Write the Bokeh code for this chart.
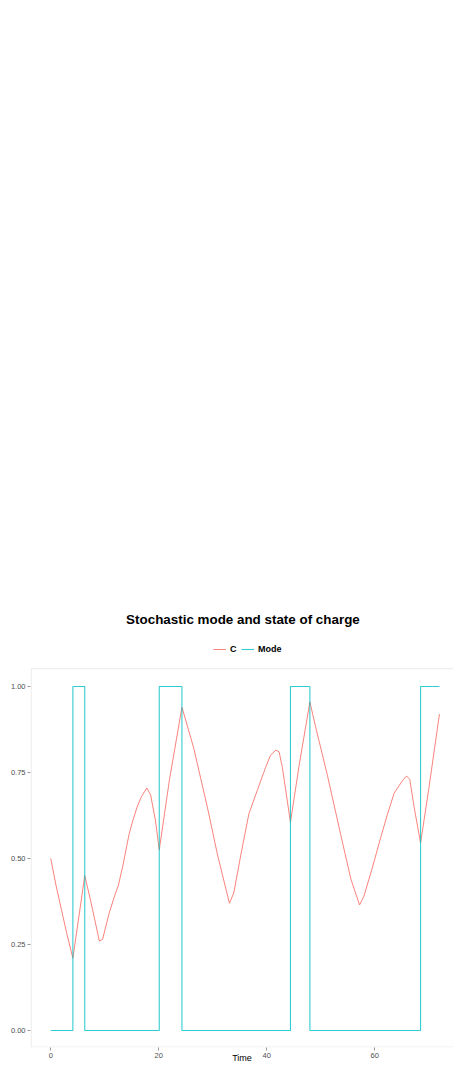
from bokeh.plotting import figure
from bokeh.models import (Range1d, FixedTicker, NumeralTickFormatter, Legend, LegendItem,
                          Label, BoxAnnotation)
from bokeh.embed import file_html
from bokeh.resources import INLINE

# ---- data ----
c_time = [0, 1, 2, 3, 4.1, 6.3, 7.5, 9.0, 9.6, 10.8, 12.0, 12.5, 13.3, 14.5, 15.2, 16.0,
          16.8, 17.8, 18.5, 19.4, 20.1, 22.0, 24.3, 26.5, 29.0, 30.9, 33.1, 33.9, 35.2,
          36.7, 37.5, 38.3, 39.8, 40.7, 41.7, 42.3, 42.9, 44.4, 46.0, 48.0, 49.1, 51.2,
          53.7, 55.6, 57.2, 58.0, 59.6, 61.1, 62.3, 63.6, 65.1, 65.9, 66.5, 67.3, 68.5,
          70.0, 72.0]
c_value = [0.50, 0.42, 0.35, 0.28, 0.21, 0.45, 0.37, 0.26, 0.265, 0.34, 0.40, 0.42, 0.475,
           0.57, 0.61, 0.65, 0.68, 0.705, 0.685, 0.61, 0.525, 0.73, 0.94, 0.82, 0.65, 0.51,
           0.37, 0.40, 0.51, 0.63, 0.665, 0.70, 0.765, 0.80, 0.815, 0.81, 0.765, 0.605,
           0.77, 0.955, 0.88, 0.745, 0.57, 0.44, 0.365, 0.39, 0.475, 0.56, 0.625, 0.69,
           0.725, 0.74, 0.73, 0.65, 0.545, 0.70, 0.92]

mode_time = [0, 4.1, 6.3, 20.1, 24.3, 44.4, 48.0, 68.5, 72.0]
mode_value = [0, 1, 0, 1, 0, 1, 0, 1, 1]

x_ticks = [0, 20, 40, 60]
y_ticks = [0.0, 0.25, 0.5, 0.75, 1.0]

# ggplot-like panel limits (5% expansion)
panel_x = (-3.6, 75.6)
panel_y = (-0.048, 1.052)

RED = "#F8766D"
TEAL = "#00BFC4"
FONT = "Liberation Sans"

p = figure(width=453, height=1065, output_backend="svg", toolbar_location=None,
           x_range=Range1d(-3.75, 74.6), y_range=Range1d(-0.0494, 2.9942),
           min_border_left=30, min_border_right=0, min_border_top=0, min_border_bottom=18)
p.title.visible = False

p.background_fill_color = "white"
p.border_fill_color = "white"
p.outline_line_color = None
p.xgrid.visible = False
p.ygrid.visible = False

# panel border
p.add_layout(BoxAnnotation(left=panel_x[0], right=panel_x[1], bottom=panel_y[0], top=panel_y[1],
                           fill_alpha=0, line_color="#C8C8C8", line_width=1.2, level="underlay"))

c_r = p.line(c_time, c_value, line_color=RED, line_width=1.0, line_alpha=0.9)
m_r = p.step(mode_time, mode_value, mode="after", line_color=TEAL, line_width=1.1, line_alpha=0.8)

for ax in (p.xaxis[0], p.yaxis[0]):
    ax.axis_line_color = None
    ax.major_tick_line_color = "#999999"
    ax.major_tick_out = 3
    ax.major_tick_in = 0
    ax.minor_tick_line_color = None
    ax.major_label_text_font = FONT
    ax.major_label_text_font_size = "7.5px"
    ax.major_label_text_color = "#4D4D4D"
    ax.major_label_standoff = 2

p.xaxis[0].ticker = FixedTicker(ticks=x_ticks)
p.yaxis[0].ticker = FixedTicker(ticks=y_ticks)
p.yaxis[0].formatter = NumeralTickFormatter(format="0.00")
p.xaxis[0].axis_label = "Time"
p.xaxis[0].axis_label_text_font = FONT
p.xaxis[0].axis_label_text_font_size = "9px"
p.xaxis[0].axis_label_text_font_style = "normal"
p.xaxis[0].axis_label_text_color = "#000000"
p.xaxis[0].axis_label_standoff = -8


def make_legend(label, renderer, x_off):
    lg = Legend(items=[LegendItem(label=label, renderers=[renderer])],
                orientation="horizontal", location=(x_off, 393))
    lg.label_text_font = FONT
    lg.label_text_font_size = "9px"
    lg.label_text_font_style = "bold"
    lg.label_text_color = "#000000"
    lg.glyph_width = 13
    lg.glyph_height = 10
    lg.label_standoff = 4
    lg.padding = 0
    lg.margin = 0
    lg.border_line_color = None
    lg.background_fill_alpha = 0
    return lg


p.add_layout(make_legend("C", c_r, 183), "center")
p.add_layout(make_legend("Mode", m_r, 211), "center")

p.add_layout(Label(x=35.6, y=1.195, text="Stochastic mode and state of charge",
                   text_align="center", text_baseline="middle",
                   text_font=FONT, text_font_size="13.4px", text_font_style="bold",
                   text_color="#000000"))

open("out.html", "w").write(file_html(p, INLINE))
